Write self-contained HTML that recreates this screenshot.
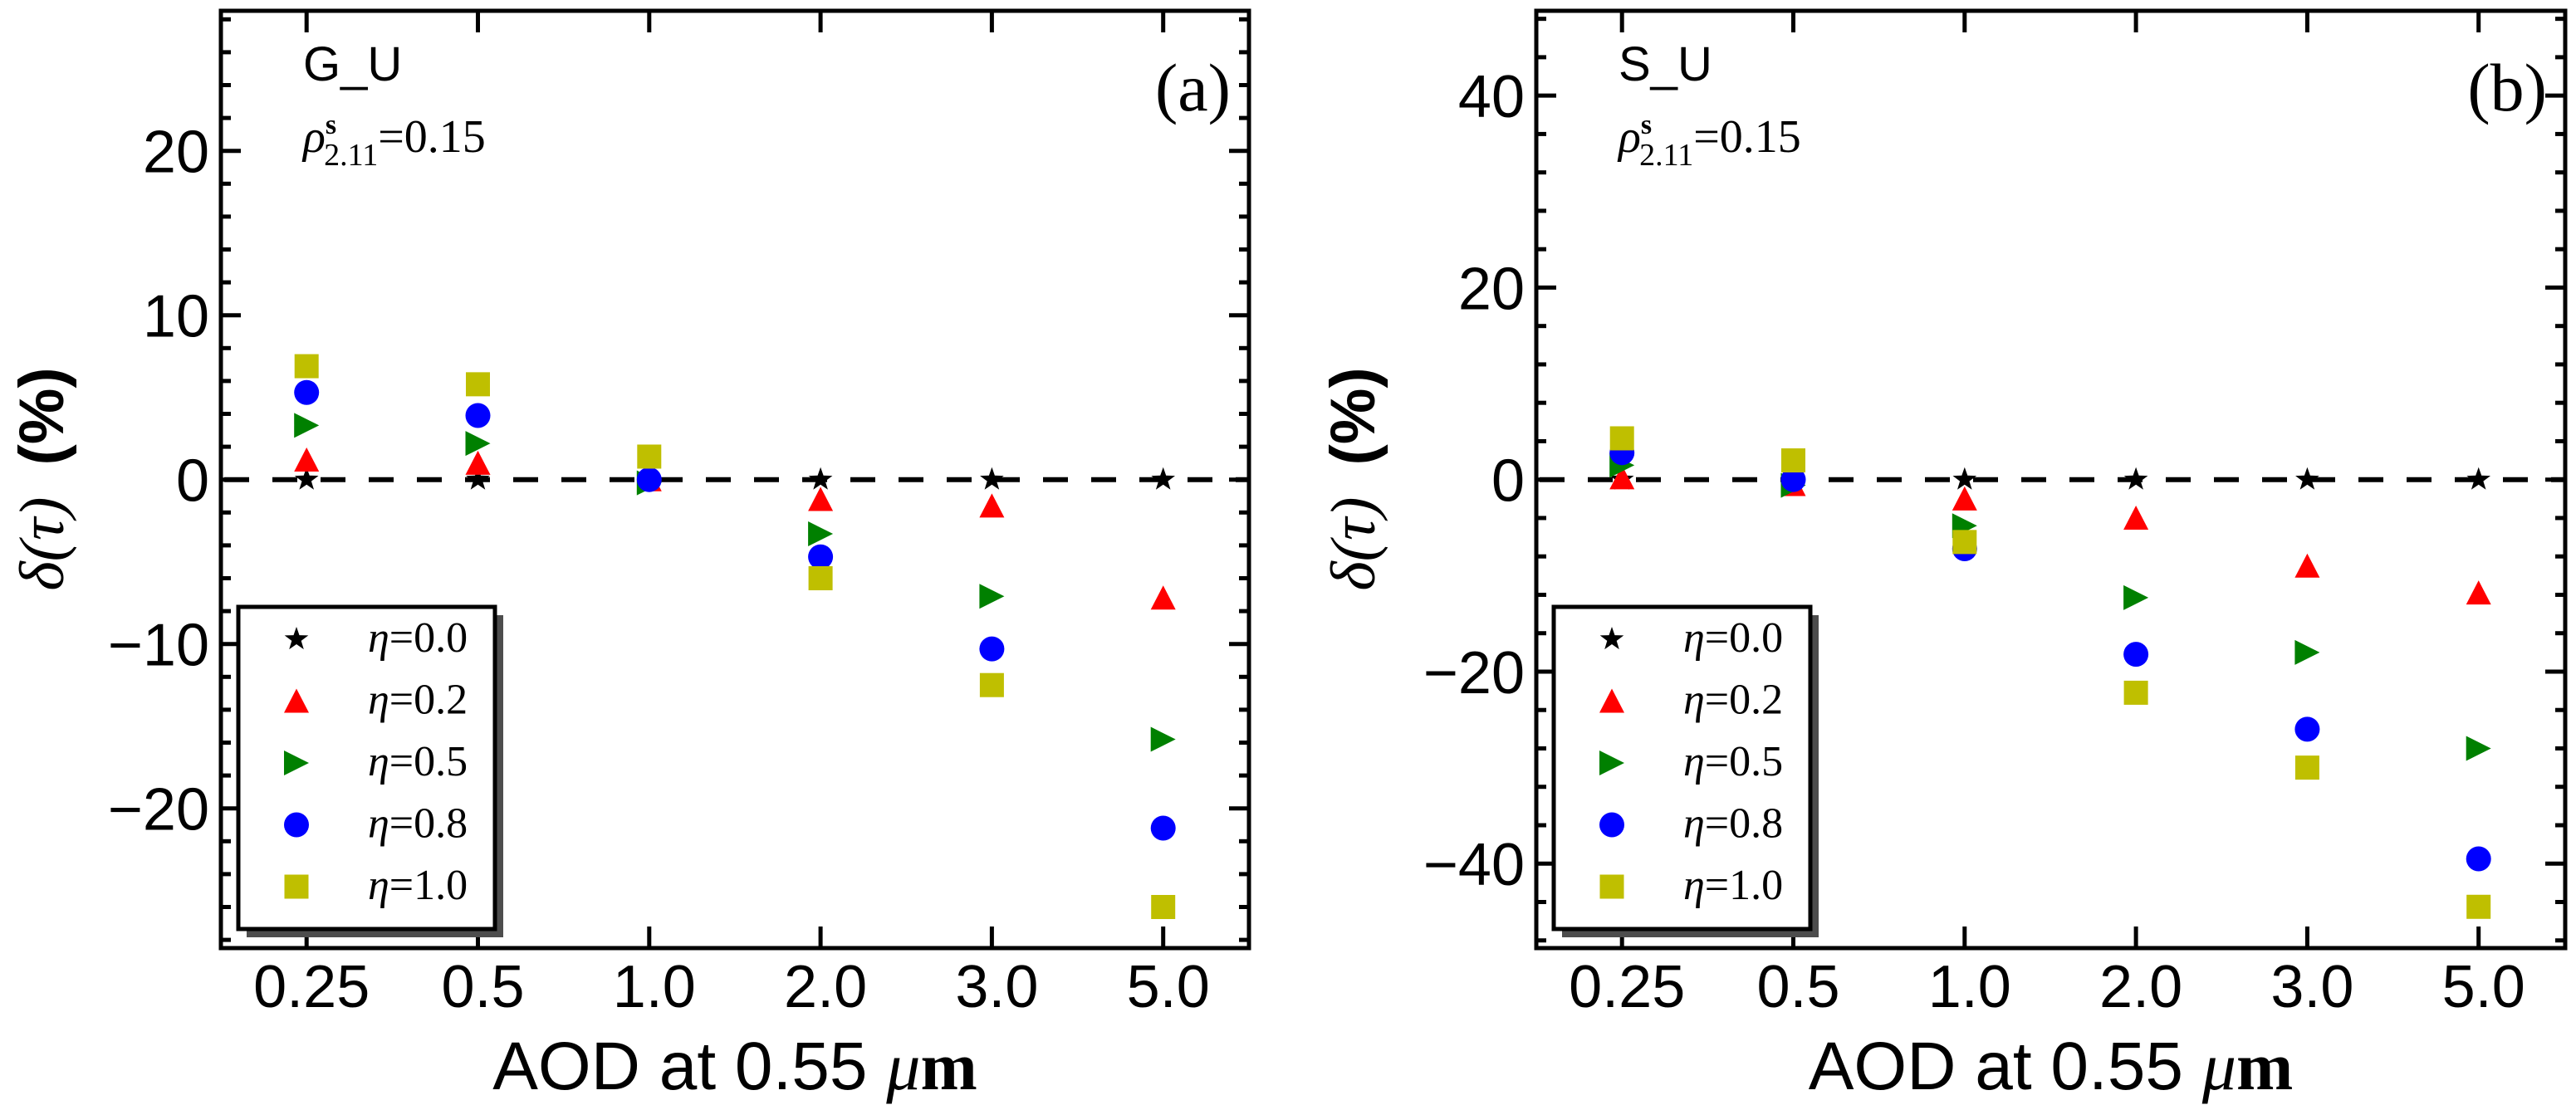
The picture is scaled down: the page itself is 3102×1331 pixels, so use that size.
<!DOCTYPE html>
<html><head><meta charset="utf-8"><style>
html,body{margin:0;padding:0;background:#fff;}
svg{display:block;}
</style></head><body>
<svg id="fig" xmlns="http://www.w3.org/2000/svg" width="3102" height="1331" viewBox="0 0 3102 1331"></svg>
<script>
const categories = ["0.25","0.5","1.0","2.0","3.0","5.0"];
const etaLabels = ["η=0.0","η=0.2","η=0.5","η=0.8","η=1.0"];
// panel a (G_U)
const aEta00 = [0,0,0,0,0,0];
const aEta02 = [1.2,1.0,0.0,-1.2,-1.6,-7.2];
const aEta05 = [3.3,2.2,-0.2,-3.3,-7.1,-15.8];
const aEta08 = [5.3,3.9,0.0,-4.7,-10.3,-21.2];
const aEta10 = [6.9,5.8,1.4,-6.0,-12.5,-26.0];
const aTicks = [-20,-10,0,10,20];
// panel b (S_U)
const bEta00 = [0,0,0,0,0,0];
const bEta02 = [0.2,-0.5,-2.0,-4.0,-9.0,-11.8];
const bEta05 = [1.5,-0.6,-4.8,-12.3,-18.0,-28.0];
const bEta08 = [2.8,0.0,-7.2,-18.2,-26.0,-39.5];
const bEta10 = [4.3,2.0,-6.5,-22.2,-30.0,-44.5];
const bTicks = [-40,-20,0,20,40];

const NS="http://www.w3.org/2000/svg";
const svg=document.getElementById('fig');
function mk(tag,attrs,parent){const e=document.createElementNS(NS,tag);for(const k in attrs)e.setAttribute(k,attrs[k]);(parent||svg).appendChild(e);return e;}
const colors=["#000000","#ff0000","#008000","#0000ff","#bfbf00"];
const shapes=["star","tri","rtri","circle","square"];
function marker(shape,cx,cy,color,g){
  let e;
  if(shape==="circle"){e=mk('circle',{cx:cx,cy:cy,r:15,fill:color},g);}
  else if(shape==="square"){e=mk('rect',{x:cx-14.5,y:cy-14.5,width:29,height:29,fill:color},g);}
  else if(shape==="tri"){e=mk('polygon',{points:`${cx},${cy-15} ${cx+15},${cy+14} ${cx-15},${cy+14}`,fill:color},g);}
  else if(shape==="rtri"){e=mk('polygon',{points:`${cx-15},${cy-15} ${cx+15},${cy} ${cx-15},${cy+15}`,fill:color},g);}
  else {let p=[];for(let i=0;i<10;i++){const r=i%2?6:15;const a=-Math.PI/2+i*Math.PI/5;p.push((cx+r*Math.cos(a)).toFixed(1)+","+(cy+r*Math.sin(a)).toFixed(1));}
    e=mk('polygon',{points:p.join(' '),fill:color},g);}
  return e;
}
function panel(cfg){
  const g=mk('g',{});
  
  
  const L=cfg.x0,R=cfg.x1,T=13,B=1142,Y0=577.7;
  const ppu=(B-Y0)/cfg.ymax;
  const yS=v=>Y0-v*ppu;
  const xS=i=>L+103.2+i*206.3;
  for(let v=-cfg.ymax;v<=cfg.ymax;v+=cfg.minor){
    const vv=Math.round(v/cfg.minor)*cfg.minor; const y=yS(vv);
    if(y<T+2||y>B-2)continue;
    const isMaj=Math.abs(vv%cfg.major)<1e-6;
    const len=isMaj?24:12;
    const t1=mk('line',{x1:L,y1:y,x2:L+len,y2:y,stroke:'#000','stroke-width':5},g);
    
    
    const t2=mk('line',{x1:R,y1:y,x2:R-len,y2:y,stroke:'#000','stroke-width':5},g);
    
    
  }
  cfg.ticks.forEach(v=>{
    const t=mk('text',{x:L-14,y:yS(v)+26,'text-anchor':'end','font-family':'Liberation Sans, DejaVu Sans, sans-serif','font-size':72},g);
    t.textContent=(v<0?'\u2212':'')+Math.abs(v);
    
    
  });
  categories.forEach((c,i)=>{
    const x=xS(i);
    const a=mk('line',{x1:x,y1:B,x2:x,y2:B-26,stroke:'#000','stroke-width':5},g);
    
    
    const b=mk('line',{x1:x,y1:T,x2:x,y2:T+26,stroke:'#000','stroke-width':5},g);
    
    
    const t=mk('text',{x:x+6,y:1213,'text-anchor':'middle','font-family':'Liberation Sans, DejaVu Sans, sans-serif','font-size':72},g);
    t.textContent=c;
    
    
  });
  const zl=mk('line',{x1:L,y1:Y0,x2:R,y2:Y0,stroke:'#000','stroke-width':6,'stroke-dasharray':'30 28','stroke-dashoffset':-4},g);
  
  
  cfg.series.forEach((s,k)=>{
    s.forEach((v,i)=>{
      const m=marker(shapes[k],xS(i),yS(v),colors[k],g);
      
      
    });
  });
  const box=mk('rect',{x:L,y:T,width:R-L,height:B-T,fill:'none',stroke:'#000','stroke-width':5},g);
  
  
  const lx=L+21,ly=731,lw=309,lh=388;
  const sh=mk('rect',{x:lx+10,y:ly+10,width:lw,height:lh,fill:'#4d4d4d'},g);
  
  
  const lb=mk('rect',{x:lx,y:ly,width:lw,height:lh,fill:'#fff',stroke:'#000','stroke-width':5},g);
  
  
  etaLabels.forEach((lab,k)=>{
    const cy=770+k*74.5;
    const m=marker(shapes[k],lx+70,cy,colors[k],g);
    
    
    const t=mk('text',{x:lx+156,y:cy+15,'font-family':'Liberation Serif, DejaVu Serif, serif','font-size':52},g);
    const t1=mk('tspan',{'font-style':'italic'},t);t1.textContent='η';
    const t2=mk('tspan',{},t);t2.textContent='='+lab.slice(2);
    
    
  });
  const n=mk('text',{x:L+99,y:97,'font-family':'Liberation Sans, DejaVu Sans, sans-serif','font-size':58},g);
  n.textContent=cfg.title;
  
  
  const rho=mk('text',{x:L+99,y:183,'font-family':'Liberation Serif, DejaVu Serif, serif','font-size':56},g);
  const r1=mk('tspan',{'font-style':'italic'},rho);r1.textContent='ρ';
  const r2=mk('tspan',{'font-size':34,dy:-22,'font-weight':'bold'},rho);r2.textContent='s';
  const r3=mk('tspan',{'font-size':38,dx:-15,dy:38},rho);r3.textContent='2.11';
  const r4=mk('tspan',{dy:-16},rho);r4.textContent='=0.15';
  
  
  const pl=mk('text',{x:R-22,y:133,'text-anchor':'end','font-family':'Liberation Serif, DejaVu Serif, serif','font-size':82},g);
  pl.textContent=cfg.letter;
  
  
  const yl=mk('text',{x:0,y:0,'text-anchor':'middle','font-family':'Liberation Sans, DejaVu Sans, sans-serif','font-size':76,transform:`translate(${cfg.ylx},577) rotate(-90)`},g);
  const y1=mk('tspan',{'font-family':'Liberation Serif, DejaVu Serif, serif','font-style':'italic'},yl);y1.textContent='δ(τ)';
  const y2=mk('tspan',{'font-weight':'bold'},yl);y2.textContent='\u2002(%)';
  
  
  const xl=mk('text',{x:(L+R)/2,y:1312,'text-anchor':'middle','font-family':'Liberation Sans, DejaVu Sans, sans-serif','font-size':82},g);
  const x1=mk('tspan',{},xl);x1.textContent='AOD at 0.55 ';
  const x2=mk('tspan',{'font-family':'Liberation Serif, DejaVu Serif, serif','font-style':'italic'},xl);x2.textContent='μ';
  const x3=mk('tspan',{'font-family':'Liberation Serif, DejaVu Serif, serif','font-weight':'bold'},xl);x3.textContent='m';
  
  
}
panel({name:'panel-a',x0:266,x1:1504,ymax:28.5,minor:2,major:10,ticks:aTicks,series:[aEta00,aEta02,aEta05,aEta08,aEta10],title:'G_U',letter:'(a)',ylx:76});
panel({name:'panel-b',x0:1850,x1:3089,ymax:48.8,minor:4,major:20,ticks:bTicks,series:[bEta00,bEta02,bEta05,bEta08,bEta10],title:'S_U',letter:'(b)',ylx:1655});
</script>
</body></html>
